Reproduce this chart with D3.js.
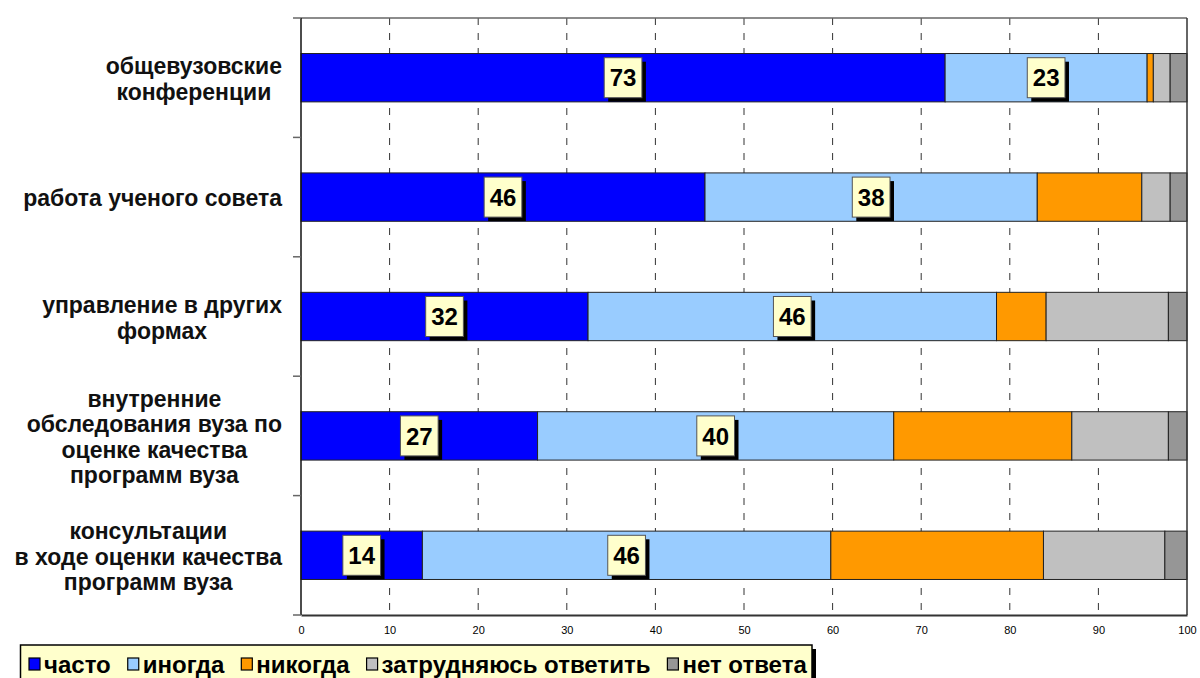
<!DOCTYPE html>
<meta charset="utf-8">
<script src="https://cdn.jsdelivr.net/npm/d3@7"></script>
<style type="text/css">
  body { margin: 0; background: #fff; }
  svg { font-family: "Liberation Sans", Arial, sans-serif; }
  .grid line { stroke: #333; stroke-width: 1; stroke-dasharray: 7,8; }
  .seg { stroke: #222; stroke-width: 1; }
  .cat { font-weight: bold; font-size: 23px; fill: #111; }
  .tick-label { font-size: 11px; fill: #000; }
  .val { font-weight: bold; font-size: 24px; fill: #000; }
  .leg-text { font-weight: bold; font-size: 24px; fill: #000; }
</style>
<body>
<script>

// categories (top to bottom), line breaks as in the picture
var categories = [
    "общевузовские\nконференции",
    "работа ученого совета",
    "управление в других\nформах",
    "внутренние\nобследования вуза по\nоценке качества\nпрограмм вуза",
    "консультации\nв ходе оценки качества\nпрограмм вуза"
];

var seriesNames = ["часто", "иногда", "никогда", "затрудняюсь ответить", "нет ответа"];

// percentages per category
var often     = [72.7, 45.6, 32.4, 26.7, 13.7];
var sometimes = [22.8, 37.5, 46.1, 40.2, 46.1];
var never     = [0.7, 11.8, 5.6, 20.1, 24.0];
var hardToSay = [1.9, 3.2, 13.8, 10.9, 13.7];
var noAnswer  = [1.9, 1.9, 2.1, 2.1, 2.5];

var xTicks = [0, 10, 20, 30, 40, 50, 60, 70, 80, 90, 100];

var seriesColors = ["#0000ff", "#99ccff", "#ff9900", "#c0c0c0", "#969696"];
var labelledSeries = ["часто", "иногда"];

// build rows for d3.stack
var allSeries = [often, sometimes, never, hardToSay, noAnswer];
var rows = categories.map(function(c, i) {
    var r = {category: c};
    seriesNames.forEach(function(s, j) { r[s] = allSeries[j][i]; });
    return r;
});

var W = 1200, H = 678;
var plot = {left: 301, right: 1187, top: 18, bottom: 615};

var svg = d3.select("body").append("svg")
    .attr("width", W)
    .attr("height", H);

svg.append("rect").attr("width", W).attr("height", H).attr("fill", "#fff");

var xScale = d3.scaleLinear()
    .domain([0, 100])
    .range([plot.left, plot.right]);

var yScale = d3.scaleBand()
    .domain(categories)
    .range([plot.top, plot.bottom])
    .paddingInner(0.595)
    .paddingOuter(0.2975);

var color = d3.scaleOrdinal().domain(seriesNames).range(seriesColors);

// dashed vertical gridlines
svg.append("g").attr("class", "grid")
    .selectAll("line")
    .data(xTicks.filter(function(t) { return t > 0 && t < 100; }))
    .enter().append("line")
        .attr("x1", function(d) { return xScale(d); })
        .attr("x2", function(d) { return xScale(d); })
        .attr("y1", plot.top)
        .attr("y2", plot.bottom);

// stacked bars
var stacked = d3.stack().keys(seriesNames)(rows);

var layers = svg.append("g").selectAll("g")
    .data(stacked)
    .enter().append("g")
        .attr("fill", function(d) { return color(d.key); });

layers.selectAll("rect")
    .data(function(d) { return d; })
    .enter().append("rect")
        .attr("class", "seg")
        .attr("x", function(d) { return xScale(d[0]); })
        .attr("y", function(d) { return yScale(d.data.category); })
        .attr("width", function(d) { return xScale(d[1]) - xScale(d[0]); })
        .attr("height", yScale.bandwidth());

// plot frame: top and right border
svg.append("line")
    .attr("x1", plot.left).attr("x2", plot.right)
    .attr("y1", plot.top).attr("y2", plot.top)
    .style("stroke", "#666").style("stroke-width", 1.5);
svg.append("line")
    .attr("x1", plot.right).attr("x2", plot.right)
    .attr("y1", plot.top).attr("y2", plot.bottom)
    .style("stroke", "#333").style("stroke-width", 1.5);

// x axis
var xAxis = d3.axisBottom(xScale)
    .tickValues(xTicks)
    .tickSize(0)
    .tickPadding(11);

var xAxisGroup = svg.append("g")
    .attr("transform", "translate(0," + plot.bottom + ")")
    .call(xAxis);
xAxisGroup.select(".domain").style("stroke", "#333").style("stroke-width", 2);
xAxisGroup.selectAll("text")
    .attr("class", "tick-label")
    .style("font-family", "Liberation Sans, Arial, sans-serif");

// y axis line and ticks at band boundaries
svg.append("line")
    .attr("x1", plot.left).attr("x2", plot.left)
    .attr("y1", plot.top).attr("y2", plot.bottom)
    .style("stroke", "#111").style("stroke-width", 1.5);

var step = yScale.step();
var boundaries = d3.range(categories.length + 1).map(function(i) { return plot.top + i * step; });
svg.append("g").selectAll("line")
    .data(boundaries)
    .enter().append("line")
        .attr("x1", plot.left - 8).attr("x2", plot.left)
        .attr("y1", function(d) { return d; })
        .attr("y2", function(d) { return d; })
        .style("stroke", "#666").style("stroke-width", 1.5);

// category labels: lines centred on each other, block aligned to the right
var lineHeight = 25.5;
var labelRight = 282;
categories.forEach(function(c) {
    var lines = c.split("\n");
    var cy = yScale(c) + yScale.bandwidth() / 2 + 1;
    var t = svg.append("text")
        .attr("class", "cat")
        .attr("text-anchor", "middle");
    var spans = lines.map(function(l, i) {
        return t.append("tspan")
            .attr("y", cy + (i - (lines.length - 1) / 2) * lineHeight)
            .attr("dy", "0.36em")
            .text(l);
    });
    var maxW = d3.max(spans, function(s) { return s.node().getComputedTextLength(); });
    spans.forEach(function(s) { s.attr("x", labelRight - maxW / 2); });
});

// value labels in yellow boxes with shadow
stacked.filter(function(s) { return labelledSeries.indexOf(s.key) >= 0; })
    .forEach(function(s) {
        s.forEach(function(d) {
            var cx = (xScale(d[0]) + xScale(d[1])) / 2;
            var cy = yScale(d.data.category) + yScale.bandwidth() / 2;
            var g = svg.append("g").attr("transform", "translate(" + cx + "," + cy + ")");
            var shadow = g.append("rect").attr("fill", "#000");
            var box = g.append("rect").attr("fill", "#ffffcc")
                .style("stroke", "#555").style("stroke-width", 1);
            var txt = g.append("text")
                .attr("class", "val")
                .attr("text-anchor", "middle")
                .attr("dy", "0.36em")
                .text(Math.round(d.data[s.key]));
            var w = txt.node().getComputedTextLength() + 11;
            var h = 40;
            box.attr("x", -w / 2).attr("y", -h / 2).attr("width", w).attr("height", h);
            shadow.attr("x", -w / 2 + 4).attr("y", -h / 2 + 4).attr("width", w).attr("height", h);
        });
    });

// legend
var legend = svg.append("g");
var legShadow = legend.append("rect").attr("fill", "#000");
var legBox = legend.append("rect").attr("fill", "#ffffcc")
    .style("stroke", "#000").style("stroke-width", 1.5);

var legX = 20.5, legY = 645, legH = 38, midY = 664;
var cursor = legX + 8.5;
seriesNames.forEach(function(name) {
    legend.append("rect")
        .attr("x", cursor)
        .attr("y", midY - 6)
        .attr("width", 11)
        .attr("height", 12)
        .attr("fill", color(name))
        .style("stroke", "#000").style("stroke-width", 1.2);
    var t = legend.append("text")
        .attr("class", "leg-text")
        .attr("x", cursor + 15)
        .attr("y", midY)
        .attr("dy", "0.36em")
        .text(name);
    cursor += 15 + t.node().getComputedTextLength() + 17;
});
var legW = 812 - legX;
legBox.attr("x", legX).attr("y", legY).attr("width", legW).attr("height", legH);
legShadow.attr("x", legX + 4).attr("y", legY + 4).attr("width", legW).attr("height", legH);

</script>
</body>
</html>
